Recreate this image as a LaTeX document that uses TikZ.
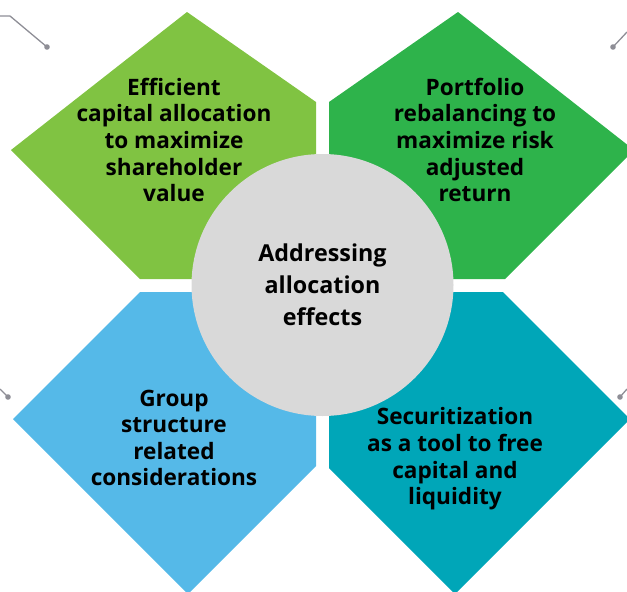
\documentclass[tikz,border=0pt]{standalone}
\usepackage{fontspec}
\setmainfont{Open Sans}
\definecolor{leafgreen}{HTML}{80C342}
\definecolor{deepgreen}{HTML}{2EB34B}
\definecolor{skyblue}{HTML}{55B9E8}
\definecolor{tealblue}{HTML}{00A6B8}
\definecolor{hubgray}{HTML}{D9D9D9}
\definecolor{stubgray}{HTML}{8E8E96}
\begin{document}
\begin{tikzpicture}[x=1pt,y=-1pt,
  petaltext/.style={font=\bfseries\fontsize{22.6}{26.6}\selectfont, align=center, text=black, inner sep=0pt},
  hub/.style={circle, fill=hubgray, minimum size=262pt, inner sep=0pt,
              font=\bfseries\fontsize{23.3}{32}\selectfont, align=center, text=black},
  stub/.style={draw=stubgray, line width=1.3pt},
  stubdot/.style={fill=stubgray}]
\useasboundingbox (0,0) rectangle (627,592);
\clip (0,0) rectangle (627,592);

% four petals around the hub
\fill[leafgreen] (187,12) -- (316,102) -- (316,279) -- (140,279) -- (11,150) -- cycle;
\fill[deepgreen] (458,12) -- (329,102) -- (329,279) -- (505,279) -- (634,150) -- cycle;
\fill[skyblue]   (140,292) -- (316,292) -- (316,466) -- (188,594) -- (13,419) -- cycle;
\fill[tealblue]  (329,292) -- (503,292) -- (630,419) -- (455,594) -- (329,468) -- cycle;

% central hub
\node[hub] (hub) at (322.5,285) {Addressing\\allocation\\effects};

% petal labels
\node[petaltext] (tl) at (174,140) {Efficient\\capital allocation\\to maximize\\shareholder\\value};
\node[petaltext] (tr) at (475,140) {Portfolio\\rebalancing to\\maximize risk\\adjusted\\return};
\node[petaltext] (bl) at (174,438) {Group\\structure\\related\\considerations};
\node[petaltext] (br) at (455,459) {Securitization\\as a tool to free\\capital and\\liquidity};

% connector stubs leaving the frame
\coordinate (tlA) at (0,16);   \coordinate (tlB) at (10,16);  \coordinate (tlC) at (47,47);
\coordinate (trA) at (627,32); \coordinate (trC) at (613,47);
\coordinate (blA) at (0,389);  \coordinate (blC) at (8,397);
\coordinate (brA) at (627,389);\coordinate (brC) at (620,397);
\draw[stub] (tlA) -- (tlB) -- (tlC);
\draw[stub] (trA) -- (trC);
\draw[stub] (blA) -- (blC);
\draw[stub] (brA) -- (brC);
\foreach \d in {tlC,trC,blC,brC} \fill[stubdot] (\d) circle (2.8);
\end{tikzpicture}
\end{document}
